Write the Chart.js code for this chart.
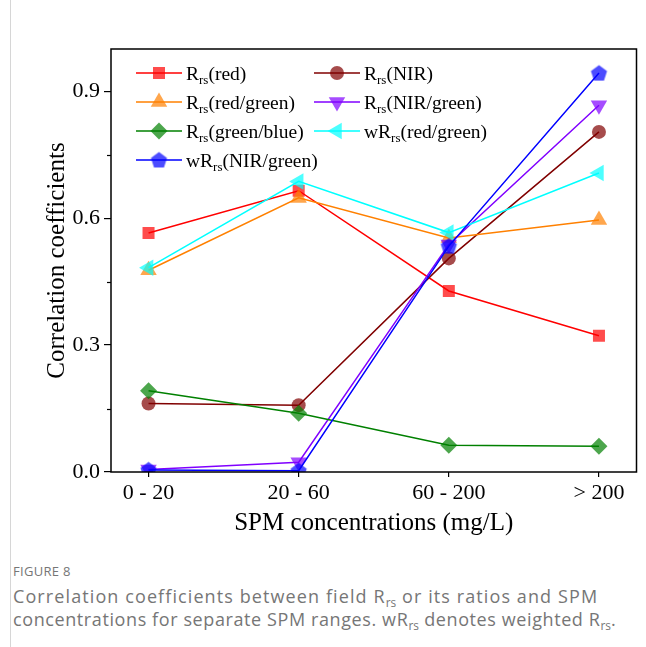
<!DOCTYPE html>
<html>
<head>
<meta charset="utf-8">
<script src="https://cdn.jsdelivr.net/npm/chart.js@4/dist/chart.umd.min.js"></script>
<style>
  html, body { margin: 0; padding: 0; background: #fff; }
  body { width: 646px; height: 647px; position: relative; overflow: hidden; }
  #frame { position: absolute; left: 10px; top: 0; width: 0; height: 647px; border-left: 1px solid #d6d6d6; }
  #wrap { position: absolute; left: 0; top: 0; width: 646px; height: 542px; }
  #caption { position: absolute; left: 13px; top: 561px; width: 633px; font-family: 'Open Sans', 'Noto Sans', sans-serif; color: #767676; }
  #caption .fig { font-size: 13px; line-height: 20px; letter-spacing: 0.3px; }
  #caption p { margin: 4px 0 0 0; font-size: 18px; line-height: 23px; white-space: nowrap; }
  #caption .l1 { letter-spacing: 1.1px; }
  #caption .l2 { letter-spacing: 0.6px; }
  #caption sub { font-size: 0.66em; line-height: 0; vertical-align: -0.3em; letter-spacing: 0; }
</style>
</head>
<body>
<div id="frame"></div>
<div id="wrap"><canvas id="chart" width="646" height="542"></canvas></div>
<div id="caption">
  <div class="fig">FIGURE 8</div>
  <p><span class="l1">Correlation coefficients between field R<sub>rs</sub> or its ratios and SPM</span><br><span class="l2">concentrations for separate SPM ranges. wR<sub>rs</sub> denotes weighted R<sub>rs</sub>.</span></p>
</div>
<script>
'use strict';
// categories + series
const categories = ['0 - 20', '20 - 60', '60 - 200', '> 200'];
const rrsRed = [0.565, 0.665, 0.428, 0.322];
const rrsNir = [0.162, 0.158, 0.505, 0.804];
const rrsRedGreen = [0.477, 0.648, 0.553, 0.596];
const rrsNirGreen = [0.006, 0.023, 0.538, 0.867];
const rrsGreenBlue = [0.192, 0.139, 0.063, 0.061];
const wRrsRedGreen = [0.483, 0.687, 0.566, 0.707];
const wRrsNirGreen = [0.005, 0.003, 0.534, 0.943];
const yTicks = [0, 0.3, 0.6, 0.9];
const yMinorTicks = [0.15, 0.45, 0.75];

const serif = "'Liberation Serif', 'DejaVu Serif', serif";

// pentagon marker, Chart.js has no built-in one
const makePentagon = (color, r) => {
  const c = document.createElement('canvas');
  const s = Math.ceil(r * 2 + 2);
  c.width = s;
  c.height = s;
  const g = c.getContext('2d');
  g.fillStyle = color;
  g.beginPath();
  for (let k = 0; k < 5; k++) {
    const a = -Math.PI / 2 + k * 2 * Math.PI / 5;
    const px = s / 2 + r * Math.cos(a);
    const py = s / 2 + 0.6 + r * Math.sin(a);
    if (k === 0) g.moveTo(px, py); else g.lineTo(px, py);
  }
  g.closePath();
  g.fill();
  return c;
};
const pentagon = makePentagon('rgba(0, 0, 255, 0.7)', 8.5);

const toPoints = (values) => values.map((v, i) => ({x: i, y: v}));

const series = [
  {label: [['R', 0], ['rs', 1], ['(red)', 0]], data: rrsRed, color: '#ff0000', fill: 'rgba(255, 0, 0, 0.7)', style: 'rect', rot: 0, r: 8.5},
  {label: [['R', 0], ['rs', 1], ['(NIR)', 0]], data: rrsNir, color: '#800000', fill: 'rgba(128, 0, 0, 0.7)', style: 'circle', rot: 0, r: 7},
  {label: [['R', 0], ['rs', 1], ['(red/green)', 0]], data: rrsRedGreen, color: '#ff8000', fill: 'rgba(255, 128, 0, 0.7)', style: 'triangle', rot: 0, r: 9.5},
  {label: [['R', 0], ['rs', 1], ['(NIR/green)', 0]], data: rrsNirGreen, color: '#8000ff', fill: 'rgba(128, 0, 255, 0.7)', style: 'triangle', rot: 180, r: 9.5},
  {label: [['R', 0], ['rs', 1], ['(green/blue)', 0]], data: rrsGreenBlue, color: '#008000', fill: 'rgba(0, 128, 0, 0.7)', style: 'rectRot', rot: 0, r: 8.5},
  {label: [['wR', 0], ['rs', 1], ['(red/green)', 0]], data: wRrsRedGreen, color: '#00ffff', fill: 'rgba(0, 255, 255, 0.7)', style: 'triangle', rot: 270, r: 9.5},
  {label: [['wR', 0], ['rs', 1], ['(NIR/green)', 0]], data: wRrsNirGreen, color: '#0000ff', fill: 'rgba(0, 0, 255, 0.7)', style: pentagon, rot: 0, r: 8.5},
];

// black frame round the plot area + short minor ticks on y
const framePlugin = {
  id: 'frame',
  afterDraw(chart) {
    const {ctx, chartArea: a, scales} = chart;
    ctx.save();
    ctx.strokeStyle = '#000';
    ctx.lineWidth = 1.5;
    ctx.strokeRect(a.left, a.top, a.right - a.left, a.bottom - a.top);
    ctx.lineWidth = 1.2;
    yMinorTicks.forEach((v) => {
      const py = Math.round(scales.y.getPixelForValue(v)) + 0.5;
      ctx.beginPath();
      ctx.moveTo(a.left - 4, py);
      ctx.lineTo(a.left, py);
      ctx.stroke();
    });
    ctx.restore();
  },
};

// legend inside the plot, two columns, line through marker, subscripted text
const legendPlugin = {
  id: 'insideLegend',
  afterDraw(chart) {
    const {ctx, chartArea: a} = chart;
    const colX = [25, 203];
    const rowY = 24;
    const rowGap = 29;
    const lineLen = 46;
    ctx.save();
    series.forEach((s, i) => {
      const x0 = a.left + colX[i % 2];
      const y0 = a.top + rowY + Math.floor(i / 2) * rowGap;
      ctx.strokeStyle = s.color;
      ctx.lineWidth = 1.5;
      ctx.beginPath();
      ctx.moveTo(x0, y0);
      ctx.lineTo(x0 + lineLen, y0);
      ctx.stroke();
      ctx.fillStyle = s.fill;
      Chart.helpers.drawPoint(ctx, {pointStyle: s.style, rotation: s.rot, radius: s.r, borderWidth: 0}, x0 + lineLen / 2, y0);
      let tx = x0 + lineLen + 4;
      ctx.fillStyle = '#000';
      ctx.textBaseline = 'alphabetic';
      ctx.textAlign = 'left';
      s.label.forEach(([txt, sub]) => {
        ctx.font = (sub ? '13px ' : '19.5px ') + serif;
        ctx.fillText(txt, tx, y0 + (sub ? 11 : 7));
        tx += ctx.measureText(txt).width;
      });
    });
    ctx.restore();
  },
};

const ctx = document.getElementById('chart');
const chart = new Chart(ctx, {
  type: 'line',
  data: {
    datasets: series.map((s, i) => ({
      data: toPoints(s.data),
      borderColor: s.color,
      borderWidth: 1.5,
      pointStyle: s.style,
      rotation: s.rot,
      pointRadius: s.r,
      pointBackgroundColor: s.fill,
      pointBorderWidth: 0,
      fill: false,
      tension: 0,
      order: series.length - i,
    })),
  },
  options: {
    responsive: false,
    animation: false,
    events: [],
    layout: {padding: {top: 49, right: 6, left: 38, bottom: 0}},
    plugins: {
      legend: {display: false},
      tooltip: {enabled: false},
    },
    scales: {
      x: {
        type: 'linear',
        min: -0.25,
        max: 3.25,
        afterBuildTicks: (scale) => {
          scale.ticks = categories.map((c, i) => ({value: i}));
        },
        afterFit: (scale) => {
          scale.height = 70;
        },
        ticks: {
          color: '#000',
          font: {family: serif, size: 22},
          padding: 3,
          maxRotation: 0,
          callback: (v) => categories[v],
        },
        grid: {drawOnChartArea: false, tickLength: 5, color: '#000', lineWidth: 1.2},
        border: {display: false},
        title: {
          display: true,
          text: 'SPM concentrations (mg/L)',
          color: '#000',
          font: {family: serif, size: 25},
          padding: {top: 4, bottom: 4},
        },
      },
      y: {
        min: 0,
        max: 1.0,
        afterBuildTicks: (scale) => {
          scale.ticks = yTicks.map((v) => ({value: v}));
        },
        afterFit: (scale) => {
          scale.width = 73;
        },
        ticks: {
          color: '#000',
          font: {family: serif, size: 22},
          padding: 4,
          callback: (v) => v.toFixed(1),
        },
        grid: {drawOnChartArea: false, tickLength: 7, color: '#000', lineWidth: 1.2},
        border: {display: false},
        title: {
          display: true,
          text: 'Correlation coefficients',
          color: '#000',
          font: {family: serif, size: 25},
          padding: {top: 4, bottom: 4},
        },
      },
    },
  },
  plugins: [framePlugin, legendPlugin],
});
</script>
</body>
</html>
